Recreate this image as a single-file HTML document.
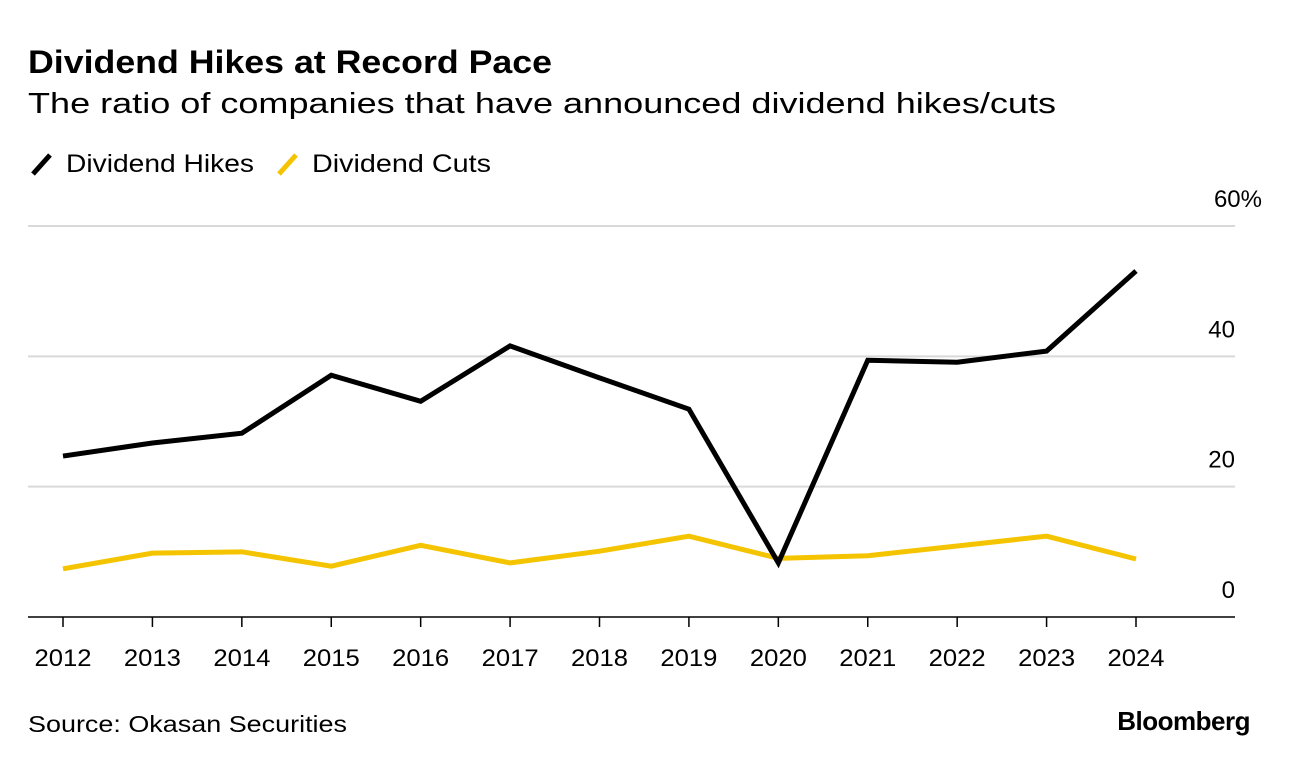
<!DOCTYPE html>
<html><head><meta charset="utf-8"><style>
body{margin:0;background:#fff;width:1289px;height:766px;overflow:hidden;font-family:"Liberation Sans",sans-serif;}
svg{position:absolute;left:0;top:0}
</style></head><body>
<svg width="1289" height="766">
<text x="28" y="73" font-size="32" font-weight="bold" fill="#000" textLength="524" lengthAdjust="spacingAndGlyphs">Dividend Hikes at Record Pace</text>
<text x="28" y="113" font-size="29" fill="#000" textLength="1028" lengthAdjust="spacingAndGlyphs">The ratio of companies that have announced dividend hikes/cuts</text>
<g>
<line x1="33" y1="174" x2="50" y2="155" stroke="#000" stroke-width="5"/>
<text x="66" y="172" font-size="25" textLength="188" lengthAdjust="spacingAndGlyphs">Dividend Hikes</text>
<line x1="279" y1="174" x2="296" y2="155" stroke="#f5c400" stroke-width="5"/>
<text x="312" y="172" font-size="25" textLength="179" lengthAdjust="spacingAndGlyphs">Dividend Cuts</text>
</g>
<g id="plot"></g>
<text x="28" y="732" font-size="23" textLength="319" lengthAdjust="spacingAndGlyphs">Source: Okasan Securities</text>
<text x="1250" y="730" font-size="26" font-weight="bold" text-anchor="end" letter-spacing="-0.5">Bloomberg</text>
</svg>
<script>
const years=[2012,2013,2014,2015,2016,2017,2018,2019,2020,2021,2022,2023,2024];
const hikes=[24.7,26.7,28.2,37.1,33.1,41.6,36.7,31.9,8.3,39.4,39.1,40.8,53.1];
const cuts=[7.4,9.8,10.0,7.8,11.0,8.3,10.1,12.4,9.0,9.4,10.9,12.4,8.9];
const yTicks=[0,20,40,60];
const yLabels=["0","20","40","60%"];
const NS="http://www.w3.org/2000/svg";
const g=document.getElementById('plot');
const x=i=>63+(1136-63)*i/(years.length-1);
const y=v=>617-v*(617-226)/60;
function mk(t,a){const e=document.createElementNS(NS,t);for(const k in a)e.setAttribute(k,a[k]);g.appendChild(e);return e;}
yTicks.forEach((t,i)=>{
 const l=mk('line',{x1:28,x2:1235,y1:y(t),y2:y(t),stroke:t===0?'#000':'#d9d9d9','stroke-width':t===0?1.5:2});
 
 
 const tx=mk('text',{x:t===60?1262:1235,y:y(t)-19,'font-size':24,'text-anchor':'end'});
 tx.textContent=yLabels[i];
 
 
});
years.forEach((yr,i)=>{
 const tk=mk('line',{x1:x(i),x2:x(i),y1:617,y2:627,stroke:'#000','stroke-width':1.5});
 
 
 const tx=mk('text',{x:x(i),y:666,'font-size':24,'text-anchor':'middle',textLength:57,lengthAdjust:'spacingAndGlyphs'});
 tx.textContent=yr;
 
 
});
function line(vals,color,name){
 const p=mk('polyline',{points:vals.map((v,i)=>x(i)+','+y(v)).join(' '),fill:'none',stroke:color,'stroke-width':5,'stroke-linejoin':'miter'});
 
 
}
line(cuts,'#f5c400','dividend-cuts-line');
line(hikes,'#000','dividend-hikes-line');
</script>
</body></html>
